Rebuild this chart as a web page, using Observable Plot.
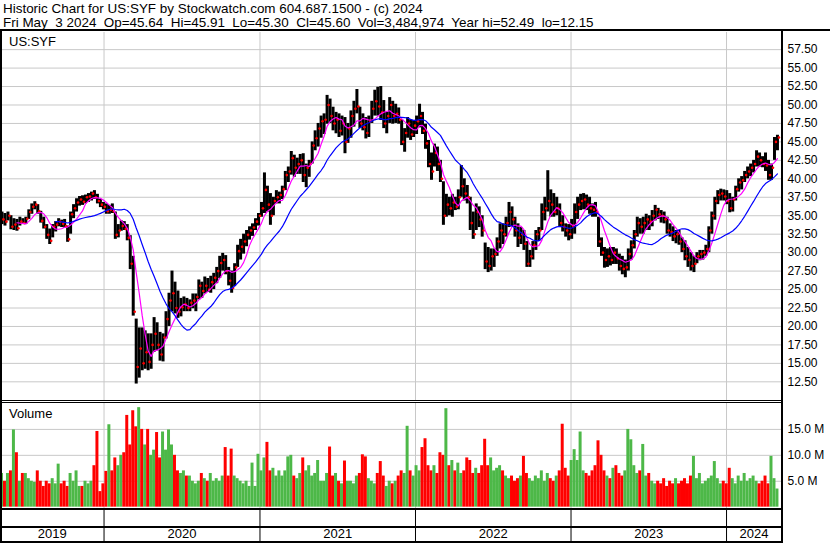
<!DOCTYPE html>
<html><head><meta charset="utf-8">
<script src="https://cdn.jsdelivr.net/npm/d3@7"></script>
<script src="https://cdn.jsdelivr.net/npm/@observablehq/plot@0.6"></script>
<style>
html,body{margin:0;padding:0;background:#fff;}
#chart{position:relative;width:830px;height:543px;overflow:hidden;font-family:"Liberation Sans",Arial,sans-serif;color:#000;}
.txt{position:absolute;font-size:13px;line-height:15px;white-space:pre;}
.hdr{font-size:13.45px;}
.pl{position:absolute;left:0;}
.ln{position:absolute;background:#000;}
</style></head><body><div id="chart"></div><script>
const titleLine = "Historic Chart for US:SYF by Stockwatch.com 604.687.1500 - (c) 2024";
const infoLine = "Fri May  3 2024  Op=45.64  Hi=45.91  Lo=45.30  Cl=45.60  Vol=3,484,974  Year hi=52.49  lo=12.15";
const symbolLabel = "US:SYF";
const volumeLabel = "Volume";
const firstWeek = "2019-05-03";
const lastDay = "2024-05-09";
const years = ["2019","2020","2021","2022","2023","2024"];
const priceTicks = [12.5,15,17.5,20,22.5,25,27.5,30,32.5,35,37.5,40,42.5,45,47.5,50,52.5,55,57.5];
const volumeTicks = [5,10,15];

const high = [
35.5,35.3,35.5,35.0,34.6,34.5,34.8,34.6,34.8,35.8,
36.6,36.9,36.5,35.6,34.8,33.8,33.2,33.8,34.2,34.6,
34.4,34.5,33.6,35.5,36.5,37.3,37.6,37.7,37.8,38.0,
38.2,38.4,37.9,37.2,36.8,36.6,36.4,36.6,35.5,33.8,
34.3,34.2,33.8,32.3,29.5,21.0,19.8,19.8,19.4,19.0,
19.0,21.2,20.5,19.2,19.0,22.0,24.5,27.5,26.0,24.8,
23.8,24.0,23.8,23.6,24.4,24.4,26.3,26.0,26.7,26.5,
26.8,27.2,28.0,29.5,29.9,29.6,28.0,27.5,28.5,31.0,
31.8,32.5,33.0,33.5,33.9,34.6,35.3,36.8,40.8,39.0,
38.0,37.5,38.4,38.2,39.0,41.0,41.6,43.7,43.2,42.8,
43.3,43.4,42.0,42.5,45.0,46.5,47.5,48.5,48.8,51.3,
50.8,49.7,49.0,48.8,48.5,48.3,47.5,49.2,50.5,52.1,
49.7,48.8,48.3,48.5,50.5,52.0,52.4,52.5,50.6,49.0,
51.0,50.5,50.1,49.6,48.0,46.8,48.3,48.0,47.9,48.5,
50.1,49.0,47.4,45.2,43.5,44.7,44.3,42.5,39.6,37.9,
37.5,37.9,37.5,38.5,41.8,40.0,39.1,37.5,35.5,36.6,
36.2,35.0,31.3,30.7,30.5,30.5,32.0,33.9,33.9,34.8,
36.8,36.2,34.8,33.9,33.4,33.0,31.5,30.3,31.5,33.0,
33.4,36.6,37.5,41.1,38.5,38.0,37.5,36.6,35.0,33.9,
33.8,34.5,36.6,37.5,37.9,38.0,37.8,37.5,36.6,36.8,
34.8,32.0,30.7,30.5,30.7,30.7,30.5,29.8,29.5,29.0,
30.5,31.6,33.0,34.8,34.6,34.8,35.2,35.0,35.7,36.4,
36.0,35.7,35.5,34.8,33.9,33.5,33.0,33.0,32.0,31.6,
30.7,30.0,29.5,30.0,30.3,30.3,31.0,33.5,35.5,37.5,
38.4,38.6,38.5,38.4,38.0,37.5,39.0,40.0,40.3,41.0,
41.6,42.0,42.5,43.8,43.5,43.0,43.5,42.5,42.0,45.6,
45.9];
const low = [
33.8,33.6,34.3,33.1,33.0,32.9,33.6,33.8,33.8,34.5,
35.2,35.8,35.2,34.0,33.2,31.8,31.1,32.0,32.8,33.5,
33.4,33.3,31.4,32.5,34.6,35.5,36.3,36.4,36.6,36.8,
37.0,37.2,36.6,36.1,35.8,35.2,35.2,35.3,31.8,32.0,
32.9,33.0,31.6,27.7,21.4,12.2,13.0,14.0,14.2,14.0,
14.2,16.5,16.7,15.3,15.2,18.3,20.0,22.0,21.7,21.1,
21.3,22.0,22.0,22.0,22.4,22.0,23.6,23.8,24.4,24.6,
24.5,25.0,25.8,26.5,27.5,27.0,25.5,24.5,25.4,28.0,
29.0,29.8,30.8,31.7,32.2,33.0,33.6,34.8,35.3,35.5,
33.7,35.0,36.6,36.6,37.2,38.4,39.5,40.5,40.2,40.6,
40.6,39.5,38.8,40.2,42.0,43.8,44.3,45.5,46.0,47.4,
47.5,46.5,46.1,45.6,45.8,43.4,44.8,45.5,47.0,48.8,
46.8,46.5,45.4,45.6,47.5,48.5,48.5,47.9,46.8,46.1,
47.5,47.4,47.5,47.4,44.5,43.6,45.5,45.2,45.6,46.0,
46.9,46.0,44.0,41.5,39.8,41.6,41.0,39.5,33.7,34.8,
35.0,34.8,35.7,35.8,37.5,37.0,36.6,33.0,31.8,33.0,
33.4,32.1,27.7,27.3,27.5,28.0,29.5,30.5,31.1,32.1,
33.4,33.5,32.1,30.7,31.1,30.3,28.0,28.0,29.0,30.3,
31.5,33.0,34.3,35.5,34.8,34.8,35.0,33.4,32.8,32.1,
31.6,31.8,32.5,34.5,35.7,35.8,35.7,35.2,34.8,34.8,
30.7,29.5,27.9,28.0,28.2,28.4,28.4,27.5,27.0,26.6,
27.5,29.0,30.5,32.1,32.5,32.5,33.0,33.0,33.5,34.3,
34.5,34.0,33.9,32.5,32.1,31.5,31.2,31.0,30.0,28.9,
28.0,27.5,27.3,28.5,28.9,29.0,29.5,30.0,32.5,34.4,
36.5,37.0,37.0,36.5,35.4,35.5,37.0,38.2,38.5,39.5,
40.0,40.3,40.8,41.6,41.6,41.5,41.0,39.8,39.8,42.5,
43.8];
const close = [
34.5,34.2,35.0,33.5,33.8,33.3,34.2,34.0,34.6,35.5,
36.2,36.5,35.6,34.3,33.5,32.4,31.6,33.5,33.8,34.2,
33.9,33.6,31.8,35.2,36.0,36.8,37.2,36.9,37.5,37.6,
38.0,37.5,37.0,36.5,36.2,35.6,35.8,35.6,32.4,33.0,
33.6,33.2,32.0,28.5,22.0,14.5,17.0,15.0,16.5,15.2,
17.5,19.0,17.5,16.2,18.5,21.0,23.5,24.5,22.5,22.0,
22.6,23.0,22.5,23.2,23.5,24.0,25.5,24.8,25.5,25.0,
26.0,26.6,27.5,28.6,29.0,27.5,26.2,25.2,28.0,30.2,
30.8,31.5,32.4,33.0,33.4,34.2,35.0,36.0,38.5,36.5,
35.0,37.0,37.5,37.8,38.6,40.5,41.0,42.8,41.5,42.0,
42.5,40.5,41.5,42.0,44.5,45.5,46.8,47.8,48.0,50.0,
48.5,47.5,48.0,46.5,47.5,45.0,46.8,48.5,49.5,49.8,
47.5,47.0,46.2,47.8,49.5,50.5,49.8,49.0,47.5,48.5,
50.0,48.5,48.8,48.0,45.0,46.2,47.5,46.0,47.2,47.8,
48.5,46.5,44.8,42.0,41.0,43.5,42.0,40.0,35.0,36.5,
36.0,36.8,36.2,37.5,39.0,38.0,37.5,34.0,32.5,35.5,
34.5,33.0,28.8,28.2,29.5,29.8,31.5,33.0,32.5,34.0,
35.5,34.5,33.0,32.0,32.5,31.2,28.5,29.5,31.0,32.5,
33.0,35.5,36.0,37.0,36.5,35.5,36.0,34.0,33.5,33.0,
32.5,33.6,35.5,36.5,37.0,37.2,36.5,36.0,35.8,35.5,
31.5,30.0,29.0,29.5,29.0,30.0,29.2,28.2,27.8,28.0,
29.8,31.0,32.5,34.0,33.5,34.0,34.5,34.2,35.0,35.8,
35.2,35.0,34.5,33.0,32.8,32.2,32.5,31.5,30.5,29.5,
29.0,28.2,28.5,29.5,29.8,30.0,30.5,33.0,35.0,37.0,
37.8,38.0,37.6,37.0,36.0,37.2,38.6,39.5,39.8,40.5,
41.0,41.5,42.0,43.0,42.5,42.0,41.8,40.5,41.5,45.0,
45.6];
const volume = [
6.5,5.0,6.5,7.0,14.9,10.5,5.0,6.5,6.5,5.5,
5.0,4.8,7.0,5.0,4.0,5.0,4.5,5.5,4.5,8.3,
4.5,5.0,4.0,6.5,5.0,7.0,4.0,4.0,5.0,4.5,
5.0,8.0,14.6,3.0,4.5,6.9,15.9,7.0,9.5,8.0,
10.0,10.5,17.7,12.0,18.6,15.5,19.2,15.0,12.0,15.0,
10.0,11.0,14.4,9.5,14.5,11.0,14.9,12.0,10.0,7.0,
6.5,7.0,6.0,6.0,5.0,4.5,5.0,6.5,5.5,5.0,
6.5,5.0,5.5,5.0,6.0,11.5,6.0,11.2,6.0,5.5,
5.0,4.5,5.0,4.0,8.5,4.0,10.2,7.0,9.5,12.5,
7.0,7.5,6.0,7.0,6.0,7.0,9.7,10.0,6.0,5.5,
6.5,9.5,7.0,8.0,6.0,6.5,9.0,5.0,5.0,6.5,
11.6,6.0,6.5,5.0,4.5,8.9,5.0,5.0,4.5,6.0,
6.5,10.1,9.7,5.5,5.0,4.5,6.5,8.8,6.0,4.0,
5.0,4.5,5.0,6.0,7.0,6.5,15.6,7.0,6.0,8.0,
7.0,11.5,13.2,8.0,7.0,8.0,6.5,10.5,10.0,19.0,
8.0,9.0,7.0,8.5,6.5,7.0,9.5,9.0,6.5,7.5,
6.5,8.0,13.1,8.0,9.5,7.0,7.5,8.0,7.0,6.0,
5.5,6.0,5.0,5.5,6.0,9.8,6.5,5.5,5.0,6.0,
5.5,7.0,5.0,6.5,5.5,5.0,6.0,7.0,16.0,7.5,
6.0,9.0,11.1,9.0,14.5,7.0,6.5,6.0,7.0,8.0,
12.8,10.0,7.0,6.0,5.5,7.5,8.0,6.5,6.0,7.0,
15.0,13.0,8.0,6.5,7.0,12.1,6.0,6.5,5.0,4.5,
5.0,4.5,5.5,4.0,5.0,4.5,5.5,4.5,5.0,5.5,
4.5,6.0,9.8,5.5,6.5,4.5,5.0,5.5,6.0,8.8,
5.5,4.5,5.0,4.5,7.5,5.5,4.5,6.0,5.0,6.5,
5.0,5.5,6.0,5.0,4.5,5.0,6.0,4.5,9.8,5.5,
3.5];

const FONT = '"Liberation Sans", Arial, sans-serif';
const t0 = new Date(firstWeek + "T00:00:00Z");
const tEnd = new Date(lastDay + "T00:00:00Z");
const xDomain = [t0, tEnd];
const rows = close.map((c, i) => ({
  start: d3.utcDay.offset(t0, 7 * i),
  end: d3.utcDay.offset(t0, 7 * i + 7),
  mid: d3.utcHour.offset(t0, (7 * i + 3.5) * 24),
  hi: high[i], lo: low[i], close: c, vol: volume[i],
  dir: i === 0 ? "up" : c > close[i - 1] ? "up" : c < close[i - 1] ? "down" : "flat"
}));
const yearStarts = years.slice(1).map(y => new Date(y + "-01-01T00:00:00Z"));
const bounds = [t0, ...yearStarts, tEnd];
const yearLabels = years.map((y, i) => ({label: y, x: new Date((+bounds[i] + +bounds[i + 1]) / 2)}));

const chart = document.getElementById("chart");
function addDiv(cls, css, text) {
  const d = document.createElement("div");
  d.className = cls; d.style.cssText = css;
  if (text != null) d.textContent = text;
  chart.appendChild(d); return d;
}

const common = {
  width: 830, marginLeft: 0, marginRight: 49, marginTop: 0, marginBottom: 0,
  style: {fontFamily: FONT, fontSize: "12px", color: "#000", background: "transparent", overflow: "visible"}
};

const price = Plot.plot({
  ...common, height: 369,
  x: {type: "utc", domain: xDomain, axis: null},
  y: {domain: [9.835, 59.82], axis: "right", ticks: priceTicks, tickFormat: d => d.toFixed(2), tickSize: 0, tickPadding: 6, label: null},
  marks: [
    Plot.ruleY(priceTicks, {stroke: "#c8c8c8", strokeWidth: 1}),
    Plot.ruleX(yearStarts, {stroke: "#c8c8c8", strokeWidth: 1}),
    Plot.ruleX(rows, {x: "mid", y1: "lo", y2: "hi", stroke: "#000", strokeWidth: 3}),
    Plot.dot(rows, {x: "mid", y: "close", r: 1.3, fill: "#ff0000", stroke: "none", dx: 1.5}),
    Plot.lineY(rows, Plot.windowY({k: 6, anchor: "end", strict: true}, {x: "mid", y: "close", stroke: "#ff00ff", strokeWidth: 1.2})),
    Plot.lineY(rows, Plot.windowY({k: 19, anchor: "end", strict: true}, {x: "mid", y: "close", stroke: "#0000ff", strokeWidth: 1.2}))
  ]
});
price.classList.add("pl"); price.style.top = "32px";
chart.appendChild(price);

const vol = Plot.plot({
  ...common, height: 106,
  x: {type: "utc", domain: xDomain, axis: null},
  y: {domain: [-0.45, 20], axis: "right", ticks: volumeTicks, tickFormat: d => d.toFixed(1) + " M", tickSize: 0, tickPadding: 6, label: null},
  color: {domain: ["up", "down", "flat"], range: ["#4db848", "#ff0000", "#a8a8a8"]},
  marks: [
    Plot.ruleY(volumeTicks, {stroke: "#c8c8c8", strokeWidth: 1}),
    Plot.ruleX(yearStarts, {stroke: "#c8c8c8", strokeWidth: 1}),
    Plot.rectY(rows, {x1: "start", x2: "end", y1: 0, y2: "vol", fill: "dir"})
  ]
});
vol.classList.add("pl"); vol.style.top = "403px";
chart.appendChild(vol);

const axisPlot = Plot.plot({
  ...common, height: 33,
  x: {type: "utc", domain: xDomain, axis: null},
  y: {domain: [0, 1], axis: null},
  style: {...common.style, fontSize: "13px"},
  marks: [
    Plot.ruleX(yearStarts, {stroke: "#000", strokeWidth: 1}),
    Plot.text(yearLabels, {x: "x", y: 0.25, text: "label", fill: "#000"})
  ]
});
axisPlot.classList.add("pl"); axisPlot.style.top = "509px";
chart.appendChild(axisPlot);

// frame lines
addDiv("ln", "left:0;top:29px;width:830px;height:2px;");
addDiv("ln", "left:0;top:31px;width:2px;height:512px;");
addDiv("ln", "left:781px;top:31px;width:2px;height:512px;");
addDiv("ln", "left:0;top:400px;width:783px;height:1px;");
addDiv("ln", "left:0;top:402px;width:783px;height:1px;");
addDiv("ln", "left:0;top:508px;width:783px;height:2px;");
addDiv("ln", "left:0;top:526px;width:783px;height:2px;");
addDiv("ln", "left:0;top:541px;width:783px;height:2px;");

// texts
addDiv("txt hdr", "left:3px;top:1px;", titleLine);
addDiv("txt hdr", "left:3px;top:15px;", infoLine);
addDiv("txt", "left:9px;top:34px;", symbolLabel);
addDiv("txt", "left:9px;top:406px;", volumeLabel);
</script></body></html>
